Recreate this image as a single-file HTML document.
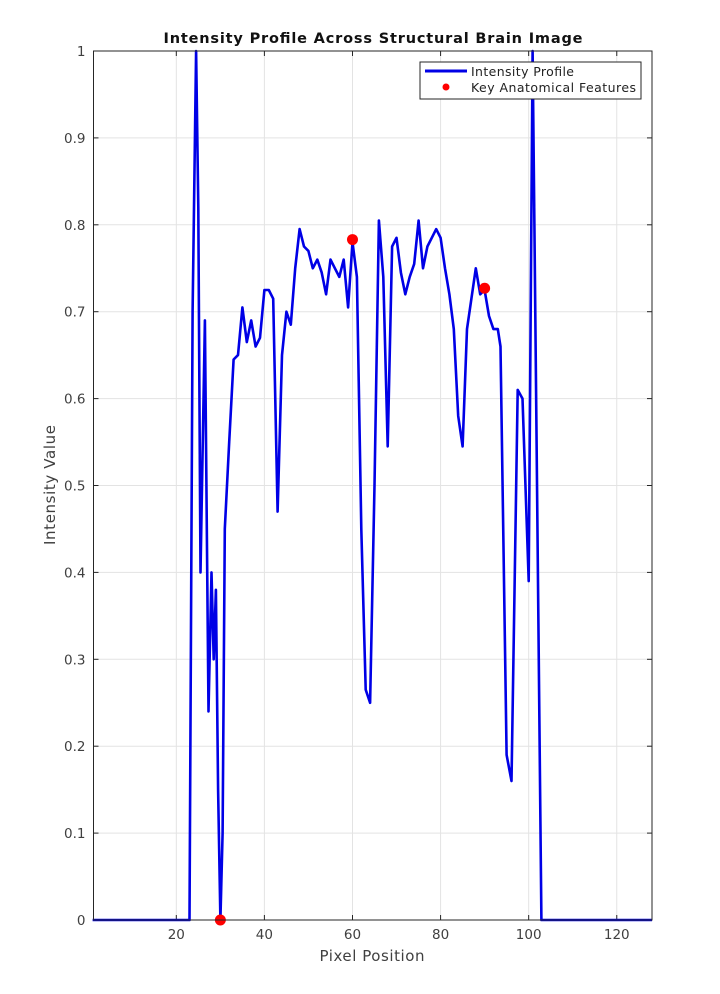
<!DOCTYPE html>
<html><head><meta charset="utf-8"><style>
html,body{margin:0;padding:0;background:#fff;}
svg{display:block;font-family:"DejaVu Sans","Liberation Sans",sans-serif;}
</style></head><body>
<svg id="chart" width="720" height="994" viewBox="0 0 720 994">
<rect x="0" y="0" width="720" height="994" fill="#fff"/>
<text x="373" y="43" text-anchor="middle" font-size="14.5" font-weight="bold" fill="#111" textLength="419" lengthAdjust="spacing">Intensity Profile Across Structural Brain Image</text>
<g id="grid"></g>
<g id="ticks"></g>
<g id="series"></g>
<rect x="93.5" y="51" width="558.5" height="869" fill="none" stroke="#262626" stroke-width="1"/>
<text x="372" y="961" text-anchor="middle" font-size="15" fill="#404040" textLength="105" lengthAdjust="spacing">Pixel Position</text>
<text x="0" y="0" transform="translate(55,485) rotate(-90)" text-anchor="middle" font-size="15" fill="#404040" textLength="120" lengthAdjust="spacing">Intensity Value</text>
<g>
<rect x="420" y="62" width="221" height="37" fill="#fff" stroke="#262626" stroke-width="1"/>
<line x1="425" y1="71" x2="467" y2="71" stroke="#0000e6" stroke-width="3"/>
<text x="471" y="76" font-size="12.5" fill="#222" textLength="103" lengthAdjust="spacing">Intensity Profile</text>
<circle cx="446" cy="87" r="3.5" fill="#f00"/>
<text x="471" y="92" font-size="12.5" fill="#222" textLength="165" lengthAdjust="spacing">Key Anatomical Features</text>
</g>
</svg>
<script>
const xPos = [1,23,23.7,24.5,25,25.5,26.5,27.3,28,28.5,29,29.5,30,30.5,31,32,
  33,34,35,36,37,38,39,40,41,42,43,44,45,46,47,48,49,50,51,52,53,54,55,56,57,58,59,60,
  61,62,63,64,65,66,67,68,69,70,71,72,73,74,75,76,77,78,79,80,81,82,83,84,85,86,87,88,89,90,
  91,92,93,93.6,95,96.1,97.5,98.6,100,100.9,101.3,102.9,128];
const intensity = [0,0,0.7,1.0,0.82,0.4,0.69,0.24,0.4,0.3,0.38,0.15,0,0.1,0.45,0.55,
  0.645,0.65,0.705,0.665,0.69,0.66,0.67,0.725,0.725,0.715,0.47,0.65,0.70,0.685,0.75,0.795,0.775,0.77,0.75,0.76,0.745,0.72,0.76,0.75,0.74,0.76,0.705,0.78,
  0.74,0.45,0.265,0.25,0.5,0.805,0.74,0.545,0.775,0.785,0.745,0.72,0.74,0.755,0.805,0.75,0.775,0.785,0.795,0.785,0.75,0.72,0.68,0.58,0.545,0.68,0.715,0.75,0.72,0.725,
  0.695,0.68,0.68,0.66,0.19,0.16,0.61,0.60,0.39,1.0,0.8,0,0];
const featureX = [30,60,90];
const featureY = [0,0.783,0.727];
const xTicks = [20,40,60,80,100,120];
const yTicks = [0,0.1,0.2,0.3,0.4,0.5,0.6,0.7,0.8,0.9,1];

const L=93.5,R=652,T=51,B=920,XMIN=1.2,XMAX=128;
const sx=v=>L+(v-XMIN)/(XMAX-XMIN)*(R-L);
const sy=v=>B-v*(B-T);
const NS='http://www.w3.org/2000/svg';
function mk(tag,attrs,parent){const e=document.createElementNS(NS,tag);for(const k in attrs)e.setAttribute(k,attrs[k]);parent.appendChild(e);return e;}
const grid=document.getElementById('grid'),ticks=document.getElementById('ticks'),series=document.getElementById('series');
xTicks.forEach(t=>{
  const x=sx(t);
  const g=mk('line',{x1:x,y1:T,x2:x,y2:B,stroke:'#e3e3e3','stroke-width':1},grid);
  
  
  const tk=mk('line',{x1:x,y1:B,x2:x,y2:B-5,stroke:'#262626'},ticks);
  
  
  const tk2=mk('line',{x1:x,y1:T,x2:x,y2:T+5,stroke:'#262626'},ticks);
  
  
  const lb=mk('text',{x:x,y:B+19,'text-anchor':'middle','font-size':13.5,fill:'#404040'},ticks);
  lb.textContent=t;
  
  
});
yTicks.forEach(t=>{
  const y=sy(t);
  const g=mk('line',{x1:L,y1:y,x2:R,y2:y,stroke:'#e3e3e3','stroke-width':1},grid);
  
  
  const tk=mk('line',{x1:L,y1:y,x2:L+5,y2:y,stroke:'#262626'},ticks);
  
  
  const tk2=mk('line',{x1:R,y1:y,x2:R-5,y2:y,stroke:'#262626'},ticks);
  
  
  const lb=mk('text',{x:L-8,y:y+5,'text-anchor':'end','font-size':13.5,fill:'#404040'},ticks);
  lb.textContent=String(t);
  
  
});
const pts=xPos.map((x,i)=>sx(x).toFixed(1)+','+sy(intensity[i]).toFixed(1)).join(' ');
const line=mk('polyline',{points:pts,fill:'none',stroke:'#0000e6','stroke-width':2.6,'stroke-linejoin':'round'},series);


featureX.forEach((x,i)=>{
  const c=mk('circle',{cx:sx(x),cy:sy(featureY[i]),r:5.5,fill:'#f00'},series);
  
  
});
</script>
</body></html>
